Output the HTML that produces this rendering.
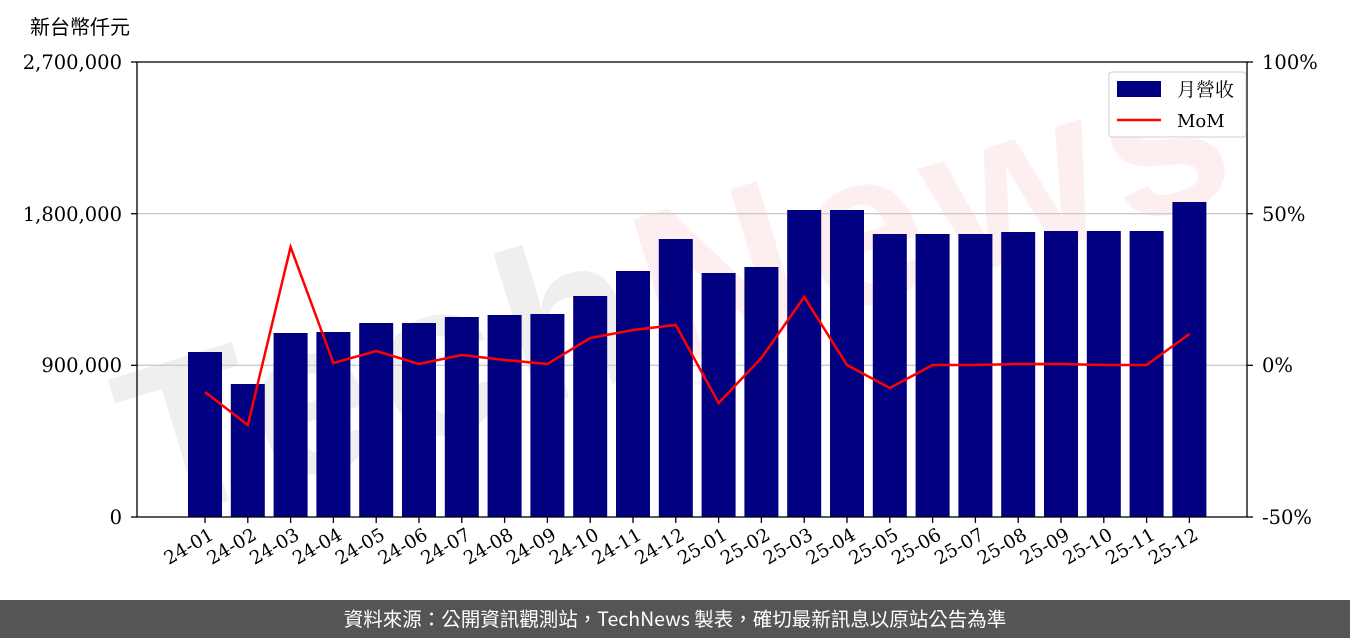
<!DOCTYPE html>
<html><head><meta charset="utf-8"><style>
body{margin:0;width:1350px;height:638px;background:#fff;overflow:hidden;font-family:"DejaVu Serif","Noto Serif CJK SC",serif}
</style></head><body>
<svg width="1350" height="638" xmlns="http://www.w3.org/2000/svg" style="position:absolute;left:0;top:0">
<g transform="translate(680,290) rotate(-17)" opacity="0.06">
<text x="0" y="70" text-anchor="middle" font-family="Liberation Sans, sans-serif" font-weight="bold" font-size="220" letter-spacing="10"><tspan fill="#000">Tech</tspan><tspan fill="#e00">News</tspan></text>
</g>
<line x1="137" y1="213.7" x2="1247" y2="213.7" stroke="#ccc" stroke-width="1.3"/>
<line x1="137" y1="365.3" x2="1247" y2="365.3" stroke="#ccc" stroke-width="1.3"/>
<g fill="#000080" id="bars"></g>
<polyline id="mom" fill="none" stroke="#ff0000" stroke-width="2.5"/>
<rect x="137" y="62" width="1110" height="455" fill="none" stroke="#000" stroke-width="1.3"/>
<g font-size="19.5" fill="#000">
<text x="122" y="69" text-anchor="end">2,700,000</text>
<text x="122" y="221" text-anchor="end">1,800,000</text>
<text x="122" y="372" text-anchor="end">900,000</text>
<text x="122" y="524" text-anchor="end">0</text>
<text x="1262" y="69">100%</text>
<text x="1262" y="221">50%</text>
<text x="1262" y="372">0%</text>
<text x="1262" y="524">-50%</text>
</g>
<g stroke="#000" stroke-width="1.3">
<line x1="131" y1="62" x2="137" y2="62"/><line x1="131" y1="213.7" x2="137" y2="213.7"/><line x1="131" y1="365.3" x2="137" y2="365.3"/><line x1="131" y1="517" x2="137" y2="517"/>
<line x1="1247" y1="62" x2="1253" y2="62"/><line x1="1247" y1="213.7" x2="1253" y2="213.7"/><line x1="1247" y1="365.3" x2="1253" y2="365.3"/><line x1="1247" y1="517" x2="1253" y2="517"/>
</g>
<g id="xt"></g>
<text x="30" y="34" font-size="20" font-family="Noto Sans CJK TC, sans-serif">新台幣仟元</text>
<rect x="1109" y="72" width="137" height="65" fill="#fff" stroke="#ccc" rx="3"/>
<rect x="1117" y="81" width="44" height="16" fill="#000080"/>
<text x="1177" y="96" font-size="19" font-family="Noto Serif CJK SC, serif">月營收</text>
<line x1="1117" y1="120" x2="1161" y2="120" stroke="#f00" stroke-width="2.5"/>
<text x="1177" y="127" font-size="18">MoM</text>
<rect x="0" y="600" width="1350" height="38" fill="#555"/>
<text x="675" y="626" text-anchor="middle" fill="#fff" font-size="19.5" font-family="Noto Sans CJK TC, sans-serif">資料來源：公開資訊觀測站，TechNews 製表，確切最新訊息以原站公告為準</text>
</svg>
<script>
var tops=[352,384,333,332,323,323,317,315,314,296,271,239,273,267,210,210,234,234,234,232,231,231,231,202];
var mom=[392,425,247,363,351,364,355,360,364,338,330,325,403,358,297,365,388,365,365,364,364,365,365,334];
var labs=[];for(var y of [24,25])for(var m=1;m<=12;m++)labs.push(y+'-'+(m<10?'0':'')+m);
var ns='http://www.w3.org/2000/svg',b=document.getElementById('bars'),xt=document.getElementById('xt'),pts=[];
for(var i=0;i<24;i++){var cx=205+i*42.8;
var r=document.createElementNS(ns,'rect');r.setAttribute('x',cx-17);r.setAttribute('y',tops[i]);r.setAttribute('width',34);r.setAttribute('height',517-tops[i]);b.appendChild(r);
pts.push(cx+','+mom[i]);
var l=document.createElementNS(ns,'line');l.setAttribute('x1',cx);l.setAttribute('x2',cx);l.setAttribute('y1',517);l.setAttribute('y2',523);l.setAttribute('stroke','#000');l.setAttribute('stroke-width','1.3');xt.appendChild(l);
var t=document.createElementNS(ns,'text');t.setAttribute('transform','translate('+(cx+4)+',528) rotate(-30)');t.setAttribute('text-anchor','end');t.setAttribute('font-size','18.5');t.textContent=labs[i];t.setAttribute('dy','12');xt.appendChild(t);}
document.getElementById('mom').setAttribute('points',pts.join(' '));
</script>
</body></html>
